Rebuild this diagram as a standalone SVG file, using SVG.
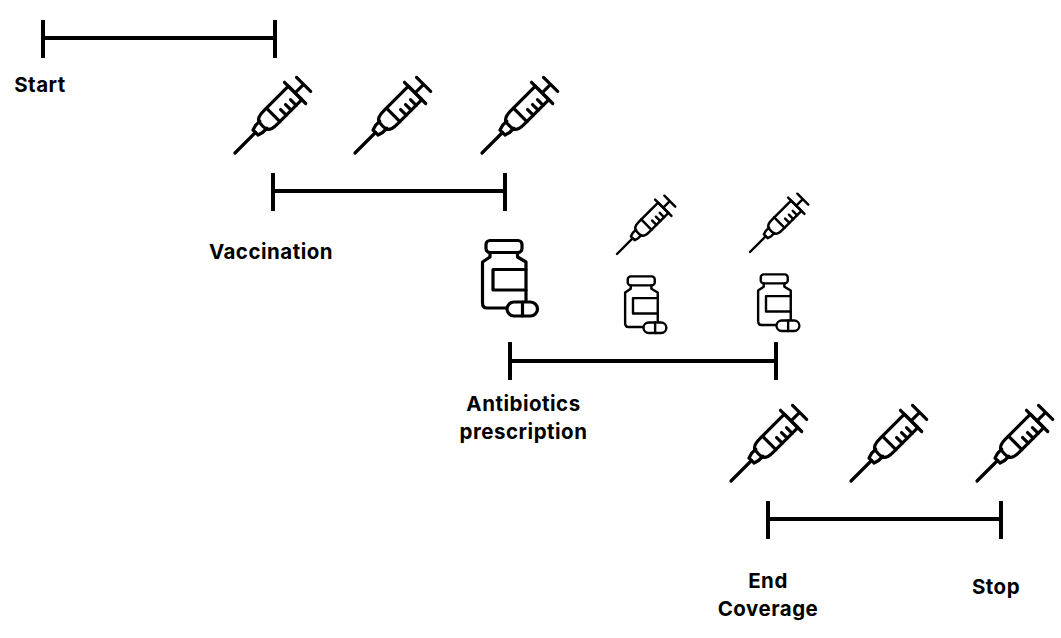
<svg xmlns="http://www.w3.org/2000/svg" width="1061" height="638" viewBox="0 0 1061 638">
<style>
.bar{fill:none;stroke:#000;stroke-width:4}
.ic{fill:none;stroke:#000;stroke-width:3.200;stroke-linecap:round;stroke-linejoin:round}
text{font-family:"Inter","Liberation Sans",sans-serif;font-weight:700;font-size:20.500px;letter-spacing:.5px;fill:#000;text-anchor:middle}
</style>
<defs>
<g id="syr" class="ic">
<path d="M0 0H29"/>
<path d="M29 -3.500L34 -5H40M29 3.500L34 5H40M29 -3.500V3.500"/>
<path d="M39 -5C40 -8 45 -9.500 50 -9.500H85V9.500H50C45 9.500 40 8 39 5C38.500 2 38.500 -2 39 -5Z"/>
<path d="M54 -9.500V9.500M63 9.500V1.500M70 9.500V1.500M77 9.500V1.500"/>
<path d="M85 -15V15M85 0H97M97 -10V10"/>
</g>
<g id="bot" class="ic">
<rect x="5" y="0.500" width="36" height="12" rx="4"/>
<path d="M9 12.500V17L1.500 22V63C1.500 66 3 68 6 68H25M36.500 12.500V17L45 22V61"/>
<path d="M45 29.500H12V50H45"/>
<rect x="26" y="62" width="30.500" height="14" rx="7"/>
<path d="M41.500 62V76"/>
</g>
</defs>
<g id="connectors">
<path class="bar" d="M43 38H275M43 20V58M275 20V58"/>
<path class="bar" d="M273 191H505M273 173V211M505 173V211"/>
<path class="bar" d="M510 361H776M510 342V380M776 342V380"/>
<path class="bar" d="M768 519H1001M768 501V539M1001 501V539"/>
</g>
<g id="syringes-1">
<use href="#syr" transform="translate(235,153) rotate(-45)"/>
<use href="#syr" transform="translate(355,153) rotate(-45)"/>
<use href="#syr" transform="translate(482,153) rotate(-45)"/>
</g>
<g id="syringes-2">
<use href="#syr" transform="translate(617,254) rotate(-45) scale(.77)"/>
<use href="#syr" transform="translate(750,252) rotate(-45) scale(.77)"/>
</g>
<g id="syringes-3">
<use href="#syr" transform="translate(731,481) rotate(-45)"/>
<use href="#syr" transform="translate(851,481) rotate(-45)"/>
<use href="#syr" transform="translate(977,481) rotate(-45)"/>
</g>
<g id="bottles">
<use href="#bot" transform="translate(481,240)"/>
<use href="#bot" transform="translate(624,276) scale(.75)"/>
<use href="#bot" transform="translate(757,274) scale(.75)"/>
</g>
<g id="label-start"><text x="40" y="92">Start</text></g>
<g id="label-vaccination"><text x="271" y="259">Vaccination</text></g>
<g id="label-antibiotics"><text x="523.500" y="411">Antibiotics</text><text x="523.500" y="439">prescription</text></g>
<g id="label-end"><text x="768" y="588">End</text><text x="768" y="616">Coverage</text></g>
<g id="label-stop"><text x="996" y="594">Stop</text></g>
</svg>
